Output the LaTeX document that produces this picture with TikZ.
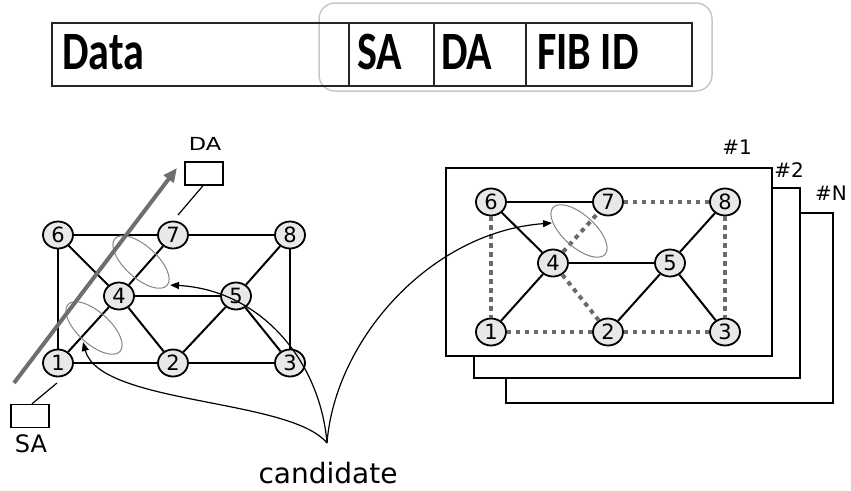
\documentclass[tikz,border=0pt]{standalone}
\usepackage{fontspec}
\setmainfont{DejaVu Sans}
\newfontfamily\barfont{Carlito}
\usetikzlibrary{arrows.meta,shapes.geometric}
\definecolor{nodefill}{HTML}{E8E8E8}
\definecolor{dotgray}{HTML}{6B6B6B}
\definecolor{arrowgray}{HTML}{6E6E6E}
\definecolor{roundgray}{HTML}{C8C8C8}
\definecolor{ellgray}{HTML}{858585}
\begin{document}
\begin{tikzpicture}[x=1pt,y=-1pt,
  vtx/.style={draw, line width=1.8pt, fill=nodefill, ellipse, minimum width=30pt, minimum height=27pt, inner sep=0pt, font=\fontsize{21}{21}\selectfont},
  edge/.style={line width=2pt},
  thinedge/.style={line width=1.4pt},
  dotedge/.style={line width=4pt, dotgray, dash pattern=on 4.5pt off 4.5pt},
  cell/.style={draw=black!85, line width=1.8pt, minimum height=63pt, anchor=north west, inner sep=0pt},
  bartext/.style={anchor=base west, inner sep=0pt, font=\barfont\bfseries\fontsize{54}{60}\selectfont},
  lbl/.style={inner sep=0pt, font=\fontsize{20}{20}\selectfont},
  ell/.style={draw=ellgray, line width=1pt, ellipse, minimum width=70pt, minimum height=32pt, inner sep=0pt, rotate=-42},
  box/.style={draw, line width=1.4pt, fill=white, minimum width=38pt, minimum height=23pt, inner sep=0pt},
  frame/.style={draw, line width=1.6pt, fill=white},
  curve/.style={line width=1.2pt, -{Triangle[length=9pt,width=7pt]}},
  bigarrow/.style={line width=4pt, arrowgray, -{Triangle[length=14pt,width=12pt]}}]
\useasboundingbox (0,0) rectangle (851,490);

% ---------- header ----------
\draw[roundgray, line width=1.5pt, rounded corners=16pt] (319,3) rectangle (712,91);
\node[cell, minimum width=297pt] (cdata) at (51,22) {};
\node[cell, minimum width=85pt] (csa) at (348,22) {};
\node[cell, minimum width=92pt] (cda) at (433,22) {};
\node[cell, minimum width=166pt] (cfib) at (525,22) {};
\node[bartext] (tdata) at (62,69) {\scalebox{0.78}[1]{Data}};
\node[bartext] (tsa) at (357,69) {\scalebox{0.78}[1]{SA}};
\node[bartext] (tda) at (441,69) {\scalebox{0.78}[1]{DA}};
\node[bartext] (tfib) at (537,69) {\scalebox{0.78}[1]{FIB ID}};

% ---------- left graph ----------
\node[vtx] (L6) at (58,235) {6};
\node[vtx] (L7) at (173,235) {7};
\node[vtx] (L8) at (290,235) {8};
\node[vtx] (L4) at (119,296) {4};
\node[vtx] (L5) at (236,296) {5};
\node[vtx] (L1) at (58,363) {1};
\node[vtx] (L2) at (173,363) {2};
\node[vtx] (L3) at (290,363) {3};
\draw[edge] (L6) -- (L7); \draw[edge] (L7) -- (L8);
\draw[edge] (L8) -- (L3); \draw[edge] (L1) -- (L2);
\draw[edge] (L2) -- (L3); \draw[edge] (L6) -- (L1);
\draw[edge] (L6) -- (L4); \draw[edge] (L7) -- (L4);
\draw[edge] (L4) -- (L1); \draw[edge] (L4) -- (L2);
\draw[edge] (L4) -- (L5); \draw[edge] (L5) -- (L8);
\draw[edge] (L5) -- (L2); \draw[edge] (L5) -- (L3);

\node[ell] (e1) at (94,328) {};
\node[ell] (e2) at (141,262) {};

\node[box] (dabox) at (204,173.5) {};
\node[box] (sabox) at (30,416) {};
\node[lbl] (dalbl) at (205,144) {\fontsize{18}{18}\selectfont\scalebox{1.25}[1]{DA}};
\node[lbl] (salbl) at (31,444) {\fontsize{24}{24}\selectfont SA};
\coordinate (daend) at (178,215);
\coordinate (saend) at (57,383);
\draw[line width=1.2pt] ([xshift=-1pt]dabox.south) -- (daend);
\draw[line width=1.2pt] ([xshift=2pt]sabox.north) -- (saend);

\coordinate (gstart) at (14,383);
\coordinate (gend) at (177,168);
\draw[bigarrow] (gstart) -- (gend);

% ---------- right graph ----------
\draw[frame] (506,213) rectangle (833,403);
\draw[frame] (474,188) rectangle (800,378);
\draw[frame] (446,168) rectangle (772,356);
\node[lbl] (f1) at (737,147) {\#1};
\node[lbl] (f2) at (789,170) {\#2};
\node[lbl] (fn) at (831,193) {\#N};

\node[vtx] (R6) at (491,202) {6};
\node[vtx] (R7) at (608,202) {7};
\node[vtx] (R8) at (725,202) {8};
\node[vtx] (R4) at (553,263) {4};
\node[vtx] (R5) at (670,263) {5};
\node[vtx] (R1) at (491,332) {1};
\node[vtx] (R2) at (608,332) {2};
\node[vtx] (R3) at (725,332) {3};
\draw[thinedge] (R6) -- (R7);
\draw[edge] (R6) -- (R4); \draw[edge] (R4) -- (R1);
\draw[edge] (R4) -- (R5); \draw[edge] (R5) -- (R8);
\draw[edge] (R5) -- (R2); \draw[edge] (R5) -- (R3);
\draw[dotedge] (R7) -- (R8); \draw[dotedge] (R8) -- (R3);
\draw[dotedge] (R1) -- (R2); \draw[dotedge] (R2) -- (R3);
\draw[dotedge] (R6) -- (R1); \draw[dotedge] (R4) -- (R2);
\draw[dotedge] (R4) -- (R7);
\node[ell] (e3) at (579,231) {};

% ---------- candidate ----------
\node[anchor=base, inner sep=0pt, font=\fontsize{28}{28}\selectfont] (cand) at (328,483) {candidate};
\coordinate (cpt) at (327,443);
\coordinate (tipA) at (83,342);
\coordinate (tipB) at (170,285);
\coordinate (tipC) at (552,223);
\draw[curve] (cpt) .. controls (290,398) and (100,405) .. (tipA);
\draw[curve] (cpt) .. controls (320,360) and (260,290) .. (tipB);
\draw[curve] (cpt) .. controls (335,340) and (430,232) .. (tipC);
\end{tikzpicture}
\end{document}
